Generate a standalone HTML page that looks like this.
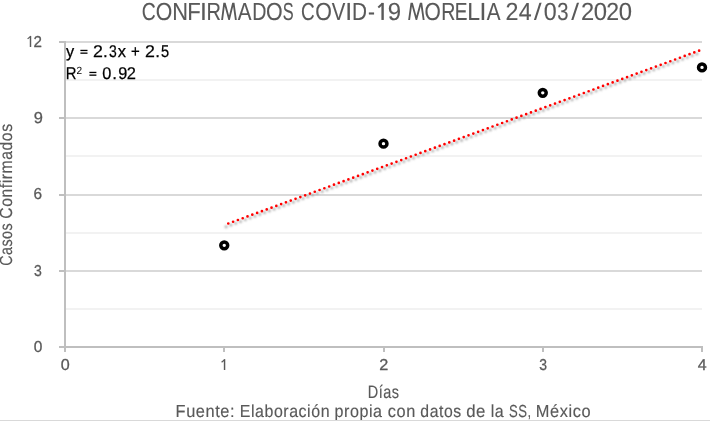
<!DOCTYPE html>
<html><head><meta charset="utf-8">
<style>
html,body{margin:0;padding:0;background:#fff;width:710px;height:421px;overflow:hidden}
svg{display:block;will-change:transform}
text{font-family:"Liberation Sans",sans-serif;font-kerning:none;text-rendering:geometricPrecision}
.t{stroke:#595959;stroke-width:0.12}
.a{stroke:#595959;stroke-width:0.15}
.e{stroke:#000;stroke-width:0.25}
.l{stroke:#595959;stroke-width:0.3}
</style></head>
<body>
<svg width="710" height="421" viewBox="0 0 710 421">
<defs>
<filter id="sh" x="-10%" y="-10%" width="120%" height="130%">
<feGaussianBlur stdDeviation="0.9"/>
</filter>
</defs>
<rect x="0" y="0" width="710" height="421" fill="#fff"/>
<g fill="#f2f2f2">
<rect x="66" y="79" width="636" height="2"/>
<rect x="66" y="155" width="636" height="2"/>
<rect x="66" y="232" width="636" height="2"/>
<rect x="66" y="308" width="636" height="2"/>
</g>
<g fill="#d9d9d9">
<rect x="66" y="41" width="636" height="2"/>
<rect x="66" y="117" width="636" height="2"/>
<rect x="66" y="194" width="636" height="2"/>
<rect x="66" y="270" width="636" height="2"/>
</g>
<g fill="#bfbfbf">
<rect x="64" y="41" width="2" height="311"/>
<rect x="59" y="346" width="644" height="2"/>
<rect x="59" y="41" width="5" height="2"/>
<rect x="59" y="117" width="5" height="2"/>
<rect x="59" y="194" width="5" height="2"/>
<rect x="59" y="270" width="5" height="2"/>
<rect x="223" y="348" width="2" height="4"/>
<rect x="383" y="348" width="2" height="4"/>
<rect x="542" y="348" width="2" height="4"/>
<rect x="701" y="348" width="2" height="4"/>
</g>
<line x1="222.05" y1="228.3" x2="699.8" y2="52.925" stroke="#7f7f7f" stroke-opacity="0.8" stroke-width="2.7" stroke-linecap="round" stroke-dasharray="0 5.118" stroke-dashoffset="-4.3" filter="url(#sh)"/>
<line x1="224.25" y1="225" x2="702" y2="49.625" stroke="#ff0000" stroke-width="2.7" stroke-linecap="round" stroke-dasharray="0 5.118" stroke-dashoffset="-4.3"/>
<g fill="none" stroke="#000" stroke-width="3.5">
<circle cx="224.25" cy="245.33" r="3.45"/>
<circle cx="383.5" cy="143.67" r="3.45"/>
<circle cx="542.75" cy="92.83" r="3.45"/>
<circle cx="702" cy="67.42" r="3.45"/>
</g>
<text transform="translate(141.87,20) scale(0.7800,1.0)" font-size="24.8" fill="#595959" class="t">C</text>
<text transform="translate(155.79,20) scale(0.8565,1.0)" font-size="24.8" fill="#595959" class="t">O</text>
<text transform="translate(172.21,20) scale(0.8807,1.0)" font-size="24.8" fill="#595959" class="t">N</text>
<text transform="translate(187.29,20) scale(0.8910,1.0)" font-size="24.8" fill="#595959" class="t">F</text>
<text transform="translate(199.90,20) scale(1.0000,1.0)" font-size="24.8" fill="#595959" class="t">I</text>
<text transform="translate(206.56,20) scale(0.8081,1.0)" font-size="24.8" fill="#595959" class="t">R</text>
<text transform="translate(237.76,20) scale(0.8331,1.0)" font-size="24.8" fill="#595959" class="t">A</text>
<text transform="translate(252.19,20) scale(0.7897,1.0)" font-size="24.8" fill="#595959" class="t">D</text>
<text transform="translate(266.09,20) scale(0.8624,1.0)" font-size="24.8" fill="#595959" class="t">O</text>
<text transform="translate(282.66,20) scale(0.6584,1.0)" font-size="24.8" fill="#595959" class="t">S</text>
<text transform="translate(301.04,20) scale(0.7640,1.0)" font-size="24.8" fill="#595959" class="t">C</text>
<text transform="translate(315.19,20) scale(0.8624,1.0)" font-size="24.8" fill="#595959" class="t">O</text>
<text transform="translate(331.81,20) scale(0.8209,1.0)" font-size="24.8" fill="#595959" class="t">V</text>
<text transform="translate(345.35,20) scale(1.0000,1.0)" font-size="24.8" fill="#595959" class="t">I</text>
<text transform="translate(352.10,20) scale(0.8374,1.0)" font-size="24.8" fill="#595959" class="t">D</text>
<text transform="translate(367.97,20) scale(0.8423,1.0)" font-size="24.8" fill="#595959" class="t">-</text>
<text transform="translate(387.67,20) scale(0.9690,1.0)" font-size="24.8" fill="#595959" class="t">9</text>
<text transform="translate(424.51,20) scale(0.8447,1.0)" font-size="24.8" fill="#595959" class="t">O</text>
<text transform="translate(441.24,20) scale(0.7912,1.0)" font-size="24.8" fill="#595959" class="t">R</text>
<text transform="translate(454.64,20) scale(0.7663,1.0)" font-size="24.8" fill="#595959" class="t">E</text>
<text transform="translate(467.22,20) scale(0.9237,1.0)" font-size="24.8" fill="#595959" class="t">L</text>
<text transform="translate(479.52,20) scale(0.9944,1.0)" font-size="24.8" fill="#595959" class="t">I</text>
<text transform="translate(486.66,20) scale(0.8331,1.0)" font-size="24.8" fill="#595959" class="t">A</text>
<text transform="translate(505.53,20) scale(0.9382,1.0)" font-size="24.8" fill="#595959" class="t">2</text>
<text transform="translate(518.67,20) scale(0.9362,1.0)" font-size="24.8" fill="#595959" class="t">4</text>
<text transform="translate(543.69,20) scale(0.9363,1.0)" font-size="24.8" fill="#595959" class="t">0</text>
<text transform="translate(557.23,20) scale(0.8165,1.0)" font-size="24.8" fill="#595959" class="t">3</text>
<text transform="translate(580.91,20) scale(0.9559,1.0)" font-size="24.8" fill="#595959" class="t">2</text>
<text transform="translate(593.77,20) scale(0.9616,1.0)" font-size="24.8" fill="#595959" class="t">0</text>
<text transform="translate(606.14,20) scale(0.9294,1.0)" font-size="24.8" fill="#595959" class="t">2</text>
<text transform="translate(618.67,20) scale(0.9616,1.0)" font-size="24.8" fill="#595959" class="t">0</text>
<defs><clipPath id="capclip"><rect x="0" y="2.85" width="710" height="17.1"/></clipPath></defs><g clip-path="url(#capclip)" fill="none" stroke="#595959" stroke-width="1.85" stroke-linejoin="miter" stroke-miterlimit="10"><path d="M221.9 21.5 L224.4 1.8 L229.1 19.2 L233.4 1.8 L236.1 21.5"/><path d="M408.9 21.5 L411.6 1.8 L416.4 19.2 L421.1 1.8 L423.9 21.5"/><g stroke-width="2.05"><path d="M534.5 21.5 L540.9 1.5"/><path d="M571.8 21.5 L578.4 1.5"/></g></g>
<g stroke="#595959" stroke-width="2.4" fill="none"><line x1="382.6" y1="2.9" x2="382.6" y2="19.95"/><line x1="382.70000000000005" y1="3.4" x2="378.3" y2="7.5" stroke-width="2.04"/></g>
<g stroke="#595959" stroke-width="1.45" fill="none"><line x1="30.5" y1="35.9" x2="30.5" y2="47.0"/><line x1="30.6" y1="36.4" x2="27.6" y2="38.9" stroke-width="1.23"/></g>
<text transform="translate(33.44,46.65) scale(0.9466,0.985)" font-size="16" fill="#595959" class="l">2</text>
<text transform="translate(33.63,123.4) scale(1.0283,0.985)" font-size="16" fill="#595959" class="l">9</text>
<text transform="translate(33.62,199.15) scale(0.9617,0.985)" font-size="16" fill="#595959" class="l">6</text>
<text transform="translate(34.12,275.75) scale(0.8766,0.985)" font-size="16" fill="#595959" class="l">3</text>
<text transform="translate(33.80,351.7) scale(0.9675,0.985)" font-size="16" fill="#595959" class="l">0</text>
<text transform="translate(60.67,369.65) scale(1.0067,0.985)" font-size="16" fill="#595959" class="l">0</text>
<g stroke="#595959" stroke-width="1.45" fill="none"><line x1="224.55" y1="359.2" x2="224.55" y2="370.0"/><line x1="224.65" y1="359.7" x2="221.6" y2="362.2" stroke-width="1.23"/></g>
<text transform="translate(379.18,369.65) scale(1.0152,0.985)" font-size="16" fill="#595959" class="l">2</text>
<text transform="translate(539.27,369.65) scale(0.8700,0.985)" font-size="16" fill="#595959" class="l">3</text>
<text transform="translate(697.64,369.65) scale(0.9922,0.985)" font-size="16" fill="#595959" class="l">4</text>
<text transform="translate(66.06,56.7) scale(0.9614,1.0)" font-size="17.0" fill="#000" class="e">y</text>
<text transform="translate(93.01,56.7) scale(1.0459,1.0)" font-size="17.0" fill="#000" class="e">2</text>
<text transform="translate(103.09,56.7) scale(1.0000,1.0)" font-size="17.0" fill="#000" class="e">.</text>
<text transform="translate(109.07,56.7) scale(0.8189,1.0)" font-size="17.0" fill="#000" class="e">3</text>
<text transform="translate(117.71,56.7) scale(0.9721,1.0)" font-size="17.0" fill="#000" class="e">x</text>
<text transform="translate(131.07,56.7) scale(0.8839,1.0)" font-size="17.0" fill="#000" class="e">+</text>
<text transform="translate(144.91,56.7) scale(1.0459,1.0)" font-size="17.0" fill="#000" class="e">2</text>
<text transform="translate(155.14,56.7) scale(1.0000,1.0)" font-size="17.0" fill="#000" class="e">.</text>
<text transform="translate(161.12,56.7) scale(0.8561,1.0)" font-size="17.0" fill="#000" class="e">5</text>
<g fill="#000"><rect x="80.4" y="49.8" width="7.1" height="1.3"/><rect x="80.4" y="52.5" width="7.1" height="1.3"/><rect x="89.4" y="71.8" width="7.0" height="1.3"/><rect x="89.4" y="74.5" width="7.0" height="1.3"/></g>
<text transform="translate(65.78,78.5) scale(0.8718,1.0)" font-size="17.0" fill="#000" class="e">R</text>
<text transform="translate(102.26,78.5) scale(0.9598,1.0)" font-size="17.0" fill="#000" class="e">0</text>
<text transform="translate(112.24,78.5) scale(1.0000,1.0)" font-size="17.0" fill="#000" class="e">.</text>
<text transform="translate(118.24,78.5) scale(0.9551,1.0)" font-size="17.0" fill="#000" class="e">9</text>
<text transform="translate(126.77,78.5) scale(0.9684,1.0)" font-size="17.0" fill="#000" class="e">2</text>
<text transform="translate(76.59,73.8) scale(0.9709,1.0)" font-size="10.4" fill="#000" class="s">2</text>
<text transform="translate(367.81,398.05) scale(0.8084,1)" font-size="17.9" fill="#595959" letter-spacing="0.600" class="a">Días</text>
<text transform="translate(175.56,416.85) scale(0.9414,1)" font-size="17.4" fill="#595959" letter-spacing="0.600" class="a">Fuente:</text>
<text transform="translate(239.79,416.85) scale(0.9168,1)" font-size="17.4" fill="#595959" letter-spacing="0.600" class="a">Elaboración</text>
<text transform="translate(334.56,416.85) scale(0.9254,1)" font-size="17.4" fill="#595959" letter-spacing="0.600" class="a">propia</text>
<text transform="translate(387.81,416.85) scale(0.9385,1)" font-size="17.4" fill="#595959" letter-spacing="0.600" class="a">con</text>
<text transform="translate(420.34,416.85) scale(0.9081,1)" font-size="17.4" fill="#595959" letter-spacing="0.600" class="a">datos</text>
<text transform="translate(466.20,416.85) scale(0.9648,1)" font-size="17.4" fill="#595959" letter-spacing="0.600" class="a">de</text>
<text transform="translate(490.72,416.85) scale(0.9175,1)" font-size="17.4" fill="#595959" letter-spacing="0.600" class="a">la</text>
<text transform="translate(509.10,416.85) scale(0.7549,1)" font-size="17.4" fill="#595959" letter-spacing="0.600" class="a">SS,</text>
<text transform="translate(535.86,416.85) scale(0.9418,1)" font-size="17.4" fill="#595959" letter-spacing="0.600" class="a">México</text>
<g transform="translate(12.0,0) rotate(-90)"><text transform="translate(-265.83,0) scale(0.8137,1)" font-size="17.6" fill="#595959" letter-spacing="0.600" class="a">Casos</text><text transform="translate(-218.80,0) scale(0.8969,1)" font-size="17.6" fill="#595959" letter-spacing="0.600" class="a">Confirmados</text></g>
<rect x="0" y="420" width="710" height="1" fill="#d9d9d9"/>
</svg>
</body></html>
